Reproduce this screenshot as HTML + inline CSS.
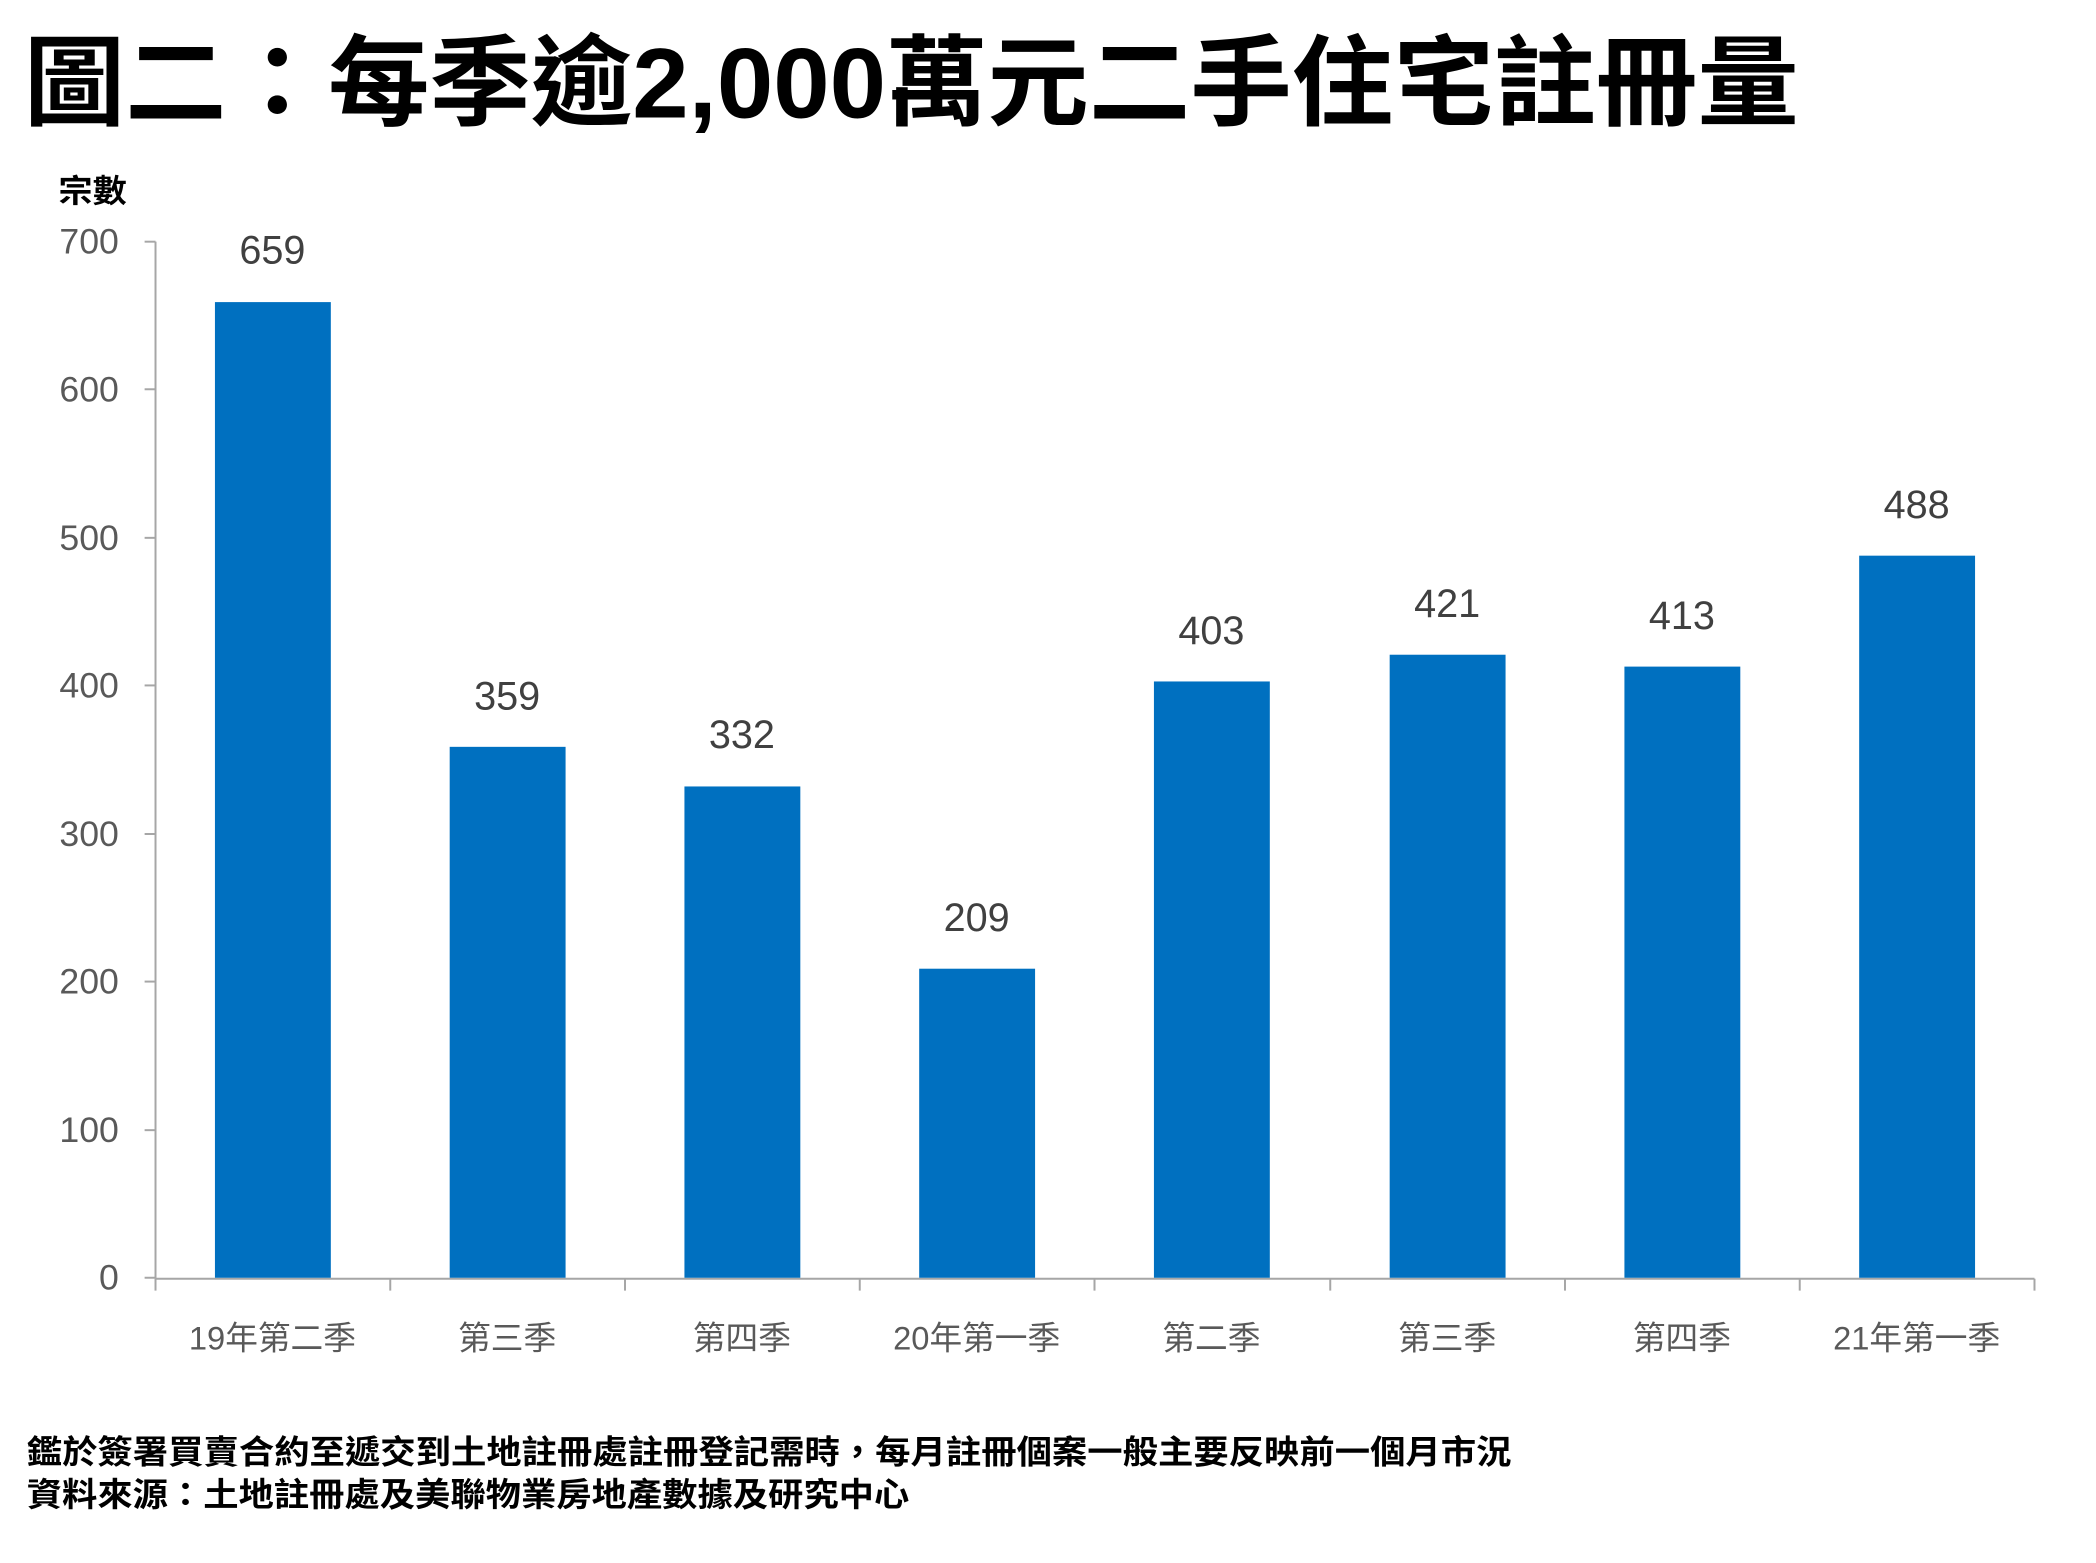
<!DOCTYPE html>
<html><head><meta charset="utf-8"><style>html,body{margin:0;padding:0;background:#fff}svg{display:block}</style></head>
<body>
<svg width="2096" height="1563" viewBox="0 0 2096 1563" xmlns="http://www.w3.org/2000/svg" font-family="'Liberation Sans','Noto Sans CJK TC',sans-serif">
<g transform="scale(0.9905)">
<text x="24" y="84" dominant-baseline="central" font-size="100" font-weight="bold" fill="#000" textLength="1792" lengthAdjust="spacingAndGlyphs">圖二：每季逾2,000萬元二手住宅註冊量</text>
<text x="59" y="193" dominant-baseline="central" font-size="32" font-weight="bold" fill="#000" textLength="69" lengthAdjust="spacingAndGlyphs">宗數</text>
<g stroke="#a6a6a6" stroke-width="2" fill="none">
<line x1="157" y1="244" x2="157" y2="1291"/>
<line x1="157" y1="1291" x2="2054" y2="1291"/>
<line x1="146" y1="244" x2="157" y2="244"/><line x1="146" y1="393" x2="157" y2="393"/><line x1="146" y1="543" x2="157" y2="543"/><line x1="146" y1="692" x2="157" y2="692"/><line x1="146" y1="842" x2="157" y2="842"/><line x1="146" y1="991" x2="157" y2="991"/><line x1="146" y1="1141" x2="157" y2="1141"/><line x1="146" y1="1290" x2="157" y2="1290"/>
<line x1="157" y1="1291" x2="157" y2="1303"/><line x1="394" y1="1291" x2="394" y2="1303"/><line x1="631" y1="1291" x2="631" y2="1303"/><line x1="868" y1="1291" x2="868" y2="1303"/><line x1="1105" y1="1291" x2="1105" y2="1303"/><line x1="1343" y1="1291" x2="1343" y2="1303"/><line x1="1580" y1="1291" x2="1580" y2="1303"/><line x1="1817" y1="1291" x2="1817" y2="1303"/><line x1="2054" y1="1291" x2="2054" y2="1303"/>
</g>
<g font-size="36" fill="#595959" text-anchor="end" dominant-baseline="central">
<text x="120" y="244">700</text><text x="120" y="393">600</text><text x="120" y="543">500</text><text x="120" y="692">400</text><text x="120" y="842">300</text><text x="120" y="991">200</text><text x="120" y="1141">100</text><text x="120" y="1290">0</text>
</g>
<g fill="#0070c0">
<rect x="217" y="305" width="117" height="985"/>
<rect x="454" y="754" width="117" height="536"/>
<rect x="691" y="794" width="117" height="496"/>
<rect x="928" y="978" width="117" height="312"/>
<rect x="1165" y="688" width="117" height="602"/>
<rect x="1403" y="661" width="117" height="629"/>
<rect x="1640" y="673" width="117" height="617"/>
<rect x="1877" y="561" width="117" height="729"/>
</g>
<g font-size="40" fill="#404040" text-anchor="middle" dominant-baseline="central">
<text x="275" y="253">659</text><text x="512" y="703">359</text><text x="749" y="742">332</text><text x="986" y="927">209</text><text x="1223" y="637">403</text><text x="1461" y="610">421</text><text x="1698" y="622">413</text><text x="1935" y="510">488</text>
</g>
<g font-size="33" fill="#595959" text-anchor="middle" dominant-baseline="central">
<text x="275" y="1351">19年第二季</text><text x="512" y="1351">第三季</text><text x="749" y="1351">第四季</text><text x="986" y="1351">20年第一季</text><text x="1223" y="1351">第二季</text><text x="1461" y="1351">第三季</text><text x="1698" y="1351">第四季</text><text x="1935" y="1351">21年第一季</text>
</g>
<g font-size="33" font-weight="bold" fill="#000" dominant-baseline="central">
<text x="27" y="1466" textLength="1499" lengthAdjust="spacingAndGlyphs">鑑於簽署買賣合約至遞交到土地註冊處註冊登記需時，每月註冊個案一般主要反映前一個月市況</text>
<text x="27" y="1509" textLength="891" lengthAdjust="spacingAndGlyphs">資料來源：土地註冊處及美聯物業房地產數據及研究中心</text>
</g>
</g>
</svg>
</body></html>
